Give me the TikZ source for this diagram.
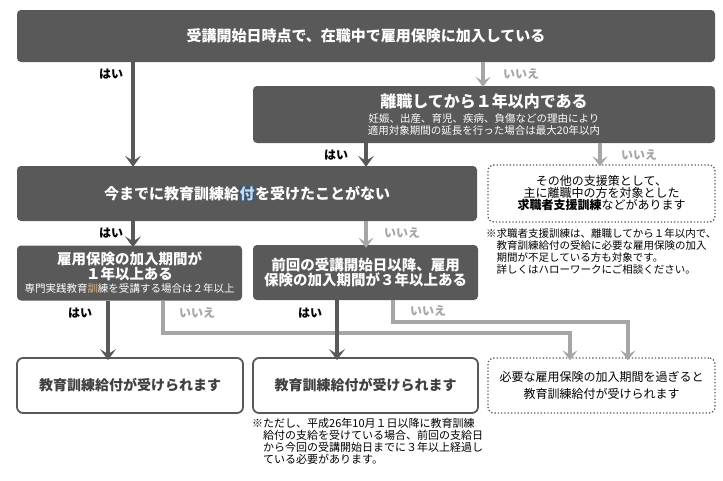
\documentclass[tikz,border=0pt]{standalone}
\usepackage{fontspec}
\setmainfont{Noto Sans CJK JP}
\usetikzlibrary{arrows.meta}
\definecolor{dk}{HTML}{595959}
\definecolor{gr}{HTML}{A6A6A6}
\definecolor{tx}{HTML}{404040}
\definecolor{hlbg}{HTML}{3E5870}
\definecolor{hlfg}{HTML}{C8DCF0}
\definecolor{orn}{HTML}{E8B888}
\newcommand{\fs}[2]{\fontsize{#1}{#2}\selectfont}
\tikzset{
  darkbox/.style={fill=dk, rounded corners=4pt, text=white, align=center, inner sep=0pt},
  whitebox/.style={draw=dk, line width=1.8pt, fill=white, rounded corners=6pt, text=tx, align=center, inner sep=0pt},
  dotbox/.style={draw=dk, dotted, line width=1.3pt, rounded corners=6pt, text=black, align=center, inner sep=0pt},
  darr/.style={draw=dk, line width=3.8pt, -{Stealth[length=11pt,width=16pt,inset=5pt]}},
  garr/.style={draw=gr, line width=3.2pt, -{Stealth[length=10pt,width=15pt,inset=4.5pt]}},
  yeslbl/.style={text=black, font=\fs{12}{14}\bfseries},
  nolbl/.style={text=gr, font=\fs{12}{14}\bfseries},
  notelbl/.style={text=black, align=left, inner sep=0pt, anchor=north west}
}
\begin{document}
\begin{tikzpicture}[x=1pt,y=-1pt]
\useasboundingbox (0,0) rectangle (723,480);

% boxes
\node[darkbox, minimum width=698, minimum height=52] (q1) at (366,36)
  {\fs{15}{18}\bfseries 受講開始日時点で、在職中で雇用保険に加入している};
\node[darkbox, minimum width=462, minimum height=57] (q2) at (484,114.5)
  {\fs{16}{18}\bfseries 離職してから１年以内である\\[3pt]
   \fs{10.5}{12.5}妊娠、出産、育児、疾病、負傷などの理由により\\
   \fs{10.5}{12.5}適用対象期間の延長を行った場合は最大20年以内};
\node[darkbox, minimum width=460, minimum height=55] (q3) at (247,193.5)
  {\fs{15}{18}\bfseries 今までに教育訓練給{\setlength{\fboxsep}{0.5pt}\colorbox{hlbg}{\textcolor{hlfg}{付}}}を受けたことがない};
\node[dotbox, minimum width=227, minimum height=57] (q4) at (601.5,193.5)
  {\fs{12}{14}その他の支援策として、\\
   \fs{12}{14}主に離職中の方を対象とした\\
   \fs{12}{14}\textbf{求職者支援訓練}などがあります};
\node[darkbox, minimum width=225, minimum height=55] (q5) at (129.5,273)
  {\fs{14.5}{17}\bfseries 雇用保険の加入期間が\\
   \fs{14.5}{17}\bfseries １年以上ある\\[1pt]
   \fs{10.5}{12}専門実践教育\textcolor{orn}{訓}練を受講する場合は２年以上};
\node[darkbox, minimum width=225, minimum height=55] (q6) at (365.5,272.5)
  {\fs{14.5}{18}\bfseries 前回の受講開始日以降、雇用\\
   \fs{14.5}{18}\bfseries 保険の加入期間が３年以上ある};
\node[whitebox, minimum width=226, minimum height=55] (r1) at (130,385.5)
  {\fs{14}{17}\bfseries 教育訓練給付が受けられます};
\node[whitebox, minimum width=225, minimum height=55] (r2) at (365.5,385.5)
  {\fs{14}{17}\bfseries 教育訓練給付が受けられます};
\node[dotbox, minimum width=227, minimum height=55] (r3) at (601.5,385.5)
  {\fs{12}{14}必要な雇用保険の加入期間を過ぎると\\[5pt]
   \fs{12}{14}教育訓練給付が受けられます};

% notes
\node[notelbl] (n1) at (486,228)
  {\fs{10.5}{13}※求職者支援訓練は、離職してから１年以内で、\\
   \fs{10.5}{13}\hspace*{1em}教育訓練給付の受給に必要な雇用保険の加入\\
   \fs{10.5}{13}\hspace*{1em}期間が不足している方も対象です。\\
   \fs{10.5}{13}\hspace*{1em}詳しくはハローワークにご相談ください。};
\node[notelbl] (n2) at (252,418)
  {\fs{11}{14}※ただし、平成26年10月１日以降に教育訓練\\
   \fs{11}{14}\hspace*{1em}給付の支給を受けている場合、前回の支給日\\
   \fs{11}{14}\hspace*{1em}から今回の受講開始日までに３年以上経過し\\
   \fs{11}{14}\hspace*{1em}ている必要があります。};

% coordinates for connectors
\coordinate (xa) at (133,0);
\coordinate (xb) at (483,0);
\coordinate (xc) at (366,0);
\coordinate (xd) at (600,0);
\coordinate (xe) at (108,0);
\coordinate (xf) at (337,0);
\coordinate (g1) at (163,333);
\coordinate (g2) at (570,333);
\coordinate (h1) at (393,322);
\coordinate (h2) at (628,322);

% gray connectors
\draw[garr] (q1.south -| xb) -- ([yshift=-1pt]q2.north -| xb);
\draw[garr] (q2.south -| xd) -- ([yshift=-2pt]q4.north -| xd);
\draw[garr] (q3.south -| xc) -- ([yshift=-3pt]q6.north -| xc);
\draw[garr] (q5.south -| g1) -- (g1) -- (g2) -- ([yshift=-3pt]r3.north -| g2);
\draw[garr] (q6.south -| h1) -- (h1) -- (h2) -- ([yshift=-3pt]r3.north -| h2);

% dark connectors
\draw[darr] (q1.south -| xa) -- ([yshift=-1pt]q3.north -| xa);
\draw[darr] (q2.south -| xc) -- ([yshift=-1pt]q3.north -| xc);
\draw[darr] (q3.south -| xa) -- ([yshift=-2pt]q5.north -| xa);
\draw[darr] (q5.south -| xe) -- ([yshift=-3pt]r1.north -| xe);
\draw[darr] (q6.south -| xf) -- ([yshift=-3pt]r2.north -| xf);

% labels
\node[yeslbl] (y1) at (111,74) {はい};
\node[nolbl] (m1) at (521,74) {いいえ};
\node[yeslbl] (y2) at (336,155) {はい};
\node[nolbl] (m2) at (639,155) {いいえ};
\node[yeslbl] (y3) at (111,233) {はい};
\node[nolbl] (m3) at (402,233) {いいえ};
\node[yeslbl] (y4) at (80,313) {はい};
\node[nolbl] (m4) at (197,313) {いいえ};
\node[yeslbl] (y5) at (310,313) {はい};
\node[nolbl] (m5) at (428,311) {いいえ};
\end{tikzpicture}
\end{document}
